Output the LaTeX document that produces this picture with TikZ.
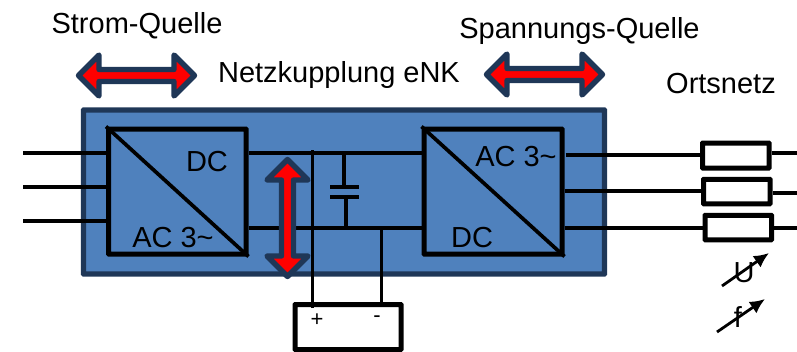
\documentclass[tikz,border=0pt]{standalone}
\usepackage{fontspec}
\setmainfont{Liberation Sans}
\usetikzlibrary{arrows.meta,shapes.arrows}
\definecolor{boxBlue}{HTML}{4F81BD}
\definecolor{boxNavy}{HTML}{1F3757}
\tikzset{
    wire/.style={line width=3.7pt},
    blockbox/.style={draw, line width=5pt, inner sep=0pt, rounded corners=0.5pt},
    redarrow/.style={shape=double arrow, draw=boxNavy, fill=red, line width=5.4pt, line join=round,
        inner sep=0pt, double arrow head extend=6.5pt, minimum width=41pt},
    bigtext/.style={font=\fontsize{29}{30}\selectfont, anchor=base, inner sep=0pt},
    varytip/.style={line width=2.8pt, -{Latex[length=15pt,width=14pt]}}
}
\begin{document}
\begin{tikzpicture}[x=1pt, y=-1pt]
    \useasboundingbox (0,0) rectangle (797,351);

    % Netzkupplung
    \node[draw=boxNavy, fill=boxBlue, line width=5.4pt, inner sep=0pt, rounded corners=0.5pt,
        minimum width=521pt, minimum height=164pt] (kupplung) at (344,192) {};

    % Umrichter
    \node[blockbox, minimum width=137.5pt, minimum height=125pt] (convL) at (177.25,191.5) {};
    \node[blockbox, minimum width=138pt, minimum height=125pt] (convR) at (493,191.5) {};

    % Widerstaende im Ortsnetz
    \node[blockbox, fill=white, minimum width=66.5pt, minimum height=25pt] (resA) at (735.75,155.5) {};
    \node[blockbox, fill=white, minimum width=66.5pt, minimum height=24.5pt] (resB) at (736.75,191.5) {};
    \node[blockbox, fill=white, minimum width=66.5pt, minimum height=24.5pt] (resC) at (738.25,227.5) {};

    % Batterie unten
    \node[blockbox, fill=white, minimum width=106pt, minimum height=45pt] (batt) at (348,327) {};

    % freie Enden und Hilfspunkte
    \coordinate (inA) at (23,153);
    \coordinate (inB) at (23,187);
    \coordinate (inC) at (23,221);
    \coordinate (railTop) at (344,153);
    \coordinate (railBot) at (346,228);
    \coordinate (plusTop) at (312.5,150);
    \coordinate (minusTop) at (381.5,228);
    \coordinate (plateA) at (344,187);
    \coordinate (plateB) at (346,197);
    \coordinate (outA) at (797,153);
    \coordinate (outB) at (797,193);
    \coordinate (outC) at (797,228);

    % Leitungen links
    \draw[wire] (inA) -- (inA -| convL.west);
    \draw[wire] (inB) -- (inB -| convL.west);
    \draw[wire] (inC) -- (inC -| convL.west);

    % Zwischenkreis
    \draw[wire] (convL.east |- railTop) -- (convR.west |- railTop);
    \draw[wire] (convL.east |- railBot) -- (convR.west |- railBot);
    \draw[wire] (plusTop) -- (312.5,308);
    \draw[wire] (minusTop) -- (minusTop |- batt.north);

    % Kondensator
    \draw[wire] (railTop) -- (plateA);
    \draw[wire] (plateB) -- (railBot);
    \draw[wire] (330,187) -- (359,187);
    \draw[wire] (330,197) -- (359,197);

    % Leitungen rechts
    \draw[wire] (565.5,155) -- (resA.west |- 0,155);
    \draw[wire] (convR.east |- 0,191) -- (resB.west |- 0,191);
    \draw[wire] (convR.east |- 0,228) -- (resC.west |- 0,228);
    \draw[wire] (resA.east |- outA) -- (outA);
    \draw[wire] (resB.east |- outB) -- (outB);
    \draw[wire] (resC.east |- outC) -- (outC);

    % Diagonalen
    \draw[line width=3.7pt] (convL.north west) -- (convL.south east);
    \draw[line width=3.7pt] (convR.north west) -- (convR.south east);

    % rote Doppelpfeile
    \node[redarrow, minimum height=116pt] (arrowStrom) at (136.5,75.5) {};
    \node[redarrow, minimum height=116pt] (arrowSpannung) at (544.5,74.5) {};
    \node[redarrow, minimum height=117pt, shape border rotate=90] (arrowDC) at (287.5,218) {};

    % Beschriftung
    \node[bigtext] (labStrom) at (137,33) {Strom-Quelle};
    \node[bigtext] (labNetz) at (339,82) {Netzkupplung eNK};
    \node[bigtext] (labSpannung) at (579.5,38) {Spannungs-Quelle};
    \node[bigtext] (labOrt) at (721,93) {Ortsnetz};
    \node[bigtext] (labDCL) at (207,171) {DC};
    \node[bigtext] (labACL) at (173,247) {AC 3\textasciitilde};
    \node[bigtext] (labACR) at (516,166) {AC 3\textasciitilde};
    \node[bigtext] (labDCR) at (472,247) {DC};
    \node[font=\fontsize{22}{22}\selectfont, inner sep=0pt] (labPlus) at (317,320) {+};
    \node[font=\fontsize{22}{22}\selectfont, inner sep=0pt] (labMinus) at (377,319) {-};

    % Stellpfeile U und f
    \node[bigtext] (labU) at (744,282) {U};
    \node[bigtext] (labF) at (738,327) {f};
    \coordinate (uFrom) at (722,286);
    \coordinate (uTo) at (769,253);
    \coordinate (fFrom) at (717,332);
    \coordinate (fTo) at (765,299);
    \draw[varytip] (uFrom) -- (uTo);
    \draw[varytip] (fFrom) -- (fTo);
\end{tikzpicture}
\end{document}
